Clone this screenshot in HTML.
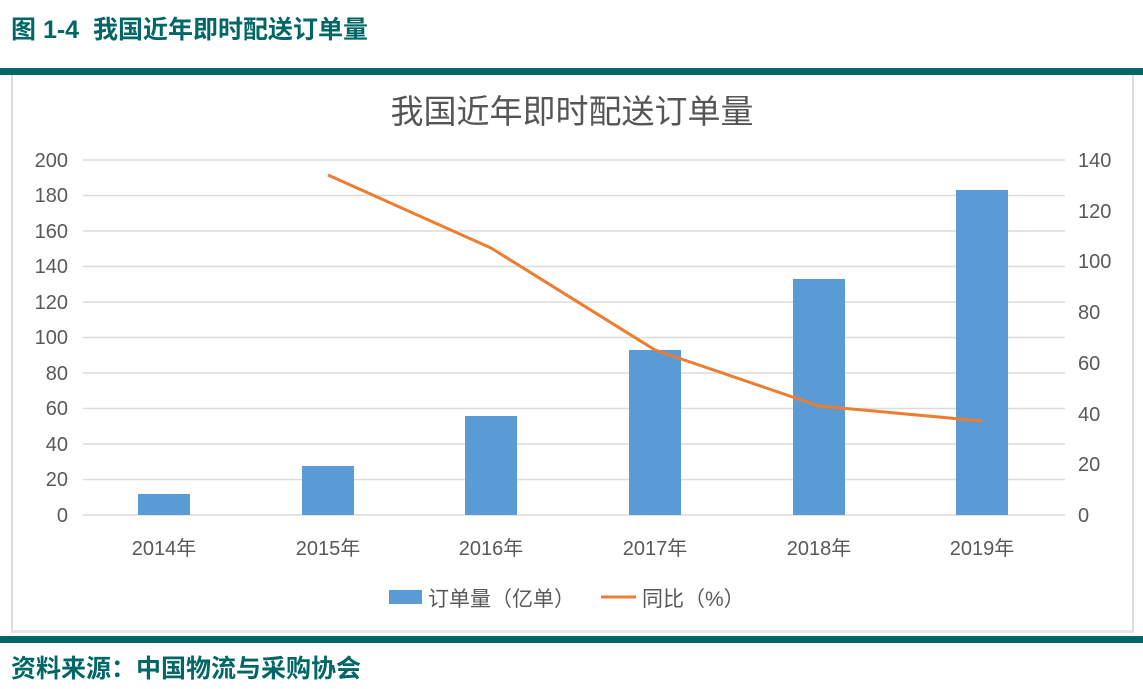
<!DOCTYPE html>
<html><head><meta charset="utf-8"><style>
body{margin:0;width:1143px;height:689px;background:#fff;overflow:hidden;position:relative;font-family:"Liberation Sans","Noto Sans CJK SC",sans-serif}
.h{position:absolute;left:11px;font-weight:bold;color:#006766;font-size:25px}
</style></head><body>
<div class="h" style="top:10px">图 1-4&nbsp; 我国近年即时配送订单量</div>
<div style="position:absolute;left:0;top:68px;width:1143px;height:7px;background:#006766"></div>
<div style="position:absolute;left:11px;top:75px;width:1119px;height:555px;border-left:2px solid #ddd;border-right:2px solid #ddd;border-bottom:3px solid #e6e6e6"></div>
<div style="position:absolute;left:0;top:636px;width:1143px;height:7px;background:#006766"></div>
<div class="h" style="top:649px">资料来源：中国物流与采购协会</div>
<svg width="1143" height="689" style="position:absolute;left:0;top:0" font-family="Liberation Sans,Noto Sans CJK SC,sans-serif">
<text x="572" y="123" font-size="33" fill="#555" text-anchor="middle">我国近年即时配送订单量</text>
<g stroke="#dcdcdc" stroke-width="1.5">
<line x1="83" x2="1065" y1="160" y2="160"/><line x1="83" x2="1065" y1="195.5" y2="195.5"/><line x1="83" x2="1065" y1="231" y2="231"/><line x1="83" x2="1065" y1="266.5" y2="266.5"/><line x1="83" x2="1065" y1="302" y2="302"/><line x1="83" x2="1065" y1="337.5" y2="337.5"/><line x1="83" x2="1065" y1="373" y2="373"/><line x1="83" x2="1065" y1="408.5" y2="408.5"/><line x1="83" x2="1065" y1="444" y2="444"/><line x1="83" x2="1065" y1="479.5" y2="479.5"/><line x1="83" x2="1065" y1="515" y2="515"/>
</g>
<g font-size="20" fill="#595959" text-anchor="end">
<text x="68" y="167">200</text><text x="68" y="202">180</text><text x="68" y="238">160</text><text x="68" y="273">140</text><text x="68" y="309">120</text><text x="68" y="344">100</text><text x="68" y="380">80</text><text x="68" y="415">60</text><text x="68" y="451">40</text><text x="68" y="486">20</text><text x="68" y="522">0</text>
</g>
<g font-size="20" fill="#595959" text-anchor="start">
<text x="1078" y="167">140</text><text x="1078" y="218">120</text><text x="1078" y="268">100</text><text x="1078" y="319">80</text><text x="1078" y="370">60</text><text x="1078" y="421">40</text><text x="1078" y="471">20</text><text x="1078" y="522">0</text>
</g>
<g fill="#5b9bd5">
<rect x="138" y="494" width="52" height="21"/><rect x="302" y="466" width="52" height="49"/><rect x="465" y="416" width="52" height="99"/><rect x="629" y="350" width="52" height="165"/><rect x="793" y="279" width="52" height="236"/><rect x="956" y="190" width="52" height="325"/>
</g>
<polyline points="328,175 491,248 655,350 819,406 982,421" fill="none" stroke="#ed7d31" stroke-width="3" stroke-linejoin="round"/>
<g font-size="20" fill="#595959" text-anchor="middle">
<text x="164" y="555">2014年</text><text x="328" y="555">2015年</text><text x="491" y="555">2016年</text><text x="655" y="555">2017年</text><text x="819" y="555">2018年</text><text x="982" y="555">2019年</text>
</g>
<rect x="389" y="590" width="33" height="14" fill="#5b9bd5"/>
<text x="428" y="606" font-size="21" fill="#595959">订单量（亿单）</text>
<line x1="601" x2="636" y1="597" y2="597" stroke="#ed7d31" stroke-width="3"/>
<text x="642" y="606" font-size="21" fill="#595959">同比（%）</text>
</svg>
</body></html>
